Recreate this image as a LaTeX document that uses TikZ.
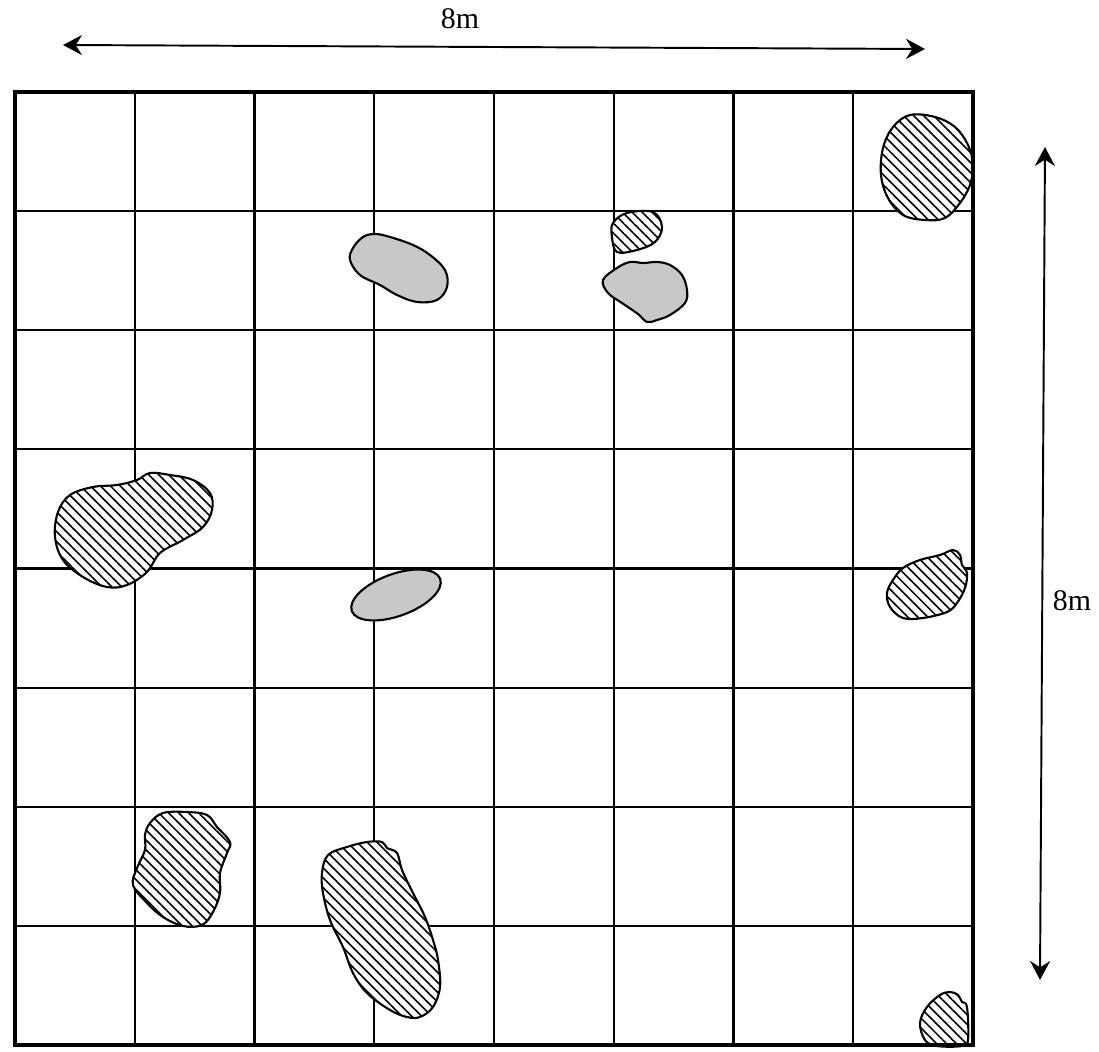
\documentclass[tikz,border=0pt]{standalone}
\usepackage{fontspec}
\setmainfont{Liberation Serif}
\usetikzlibrary{arrows.meta, patterns.meta}
\definecolor{patchgray}{RGB}{200,200,200}

\begin{document}
\begin{tikzpicture}[x=0.01cm, y=-0.01cm,
    gridline/.style={line width=0.6pt},
    hatched/.style={draw, line width=0.6pt, preaction={fill=white},
        pattern={Lines[angle=-45, distance=2pt, line width=0.45pt]}},
    grayed/.style={draw, line width=0.6pt, fill=patchgray},
    dimarrow/.style={line width=0.55pt,
        {Stealth[length=5.4pt, width=5.7pt, inset=1.8pt]}-{Stealth[length=5.4pt, width=5.7pt, inset=1.8pt]}},
    dimlabel/.style={font=\fontsize{8.5}{10}\selectfont, inner sep=0pt}]

\useasboundingbox (0,0) rectangle (1099,1052);

% grid lines
\foreach \i in {1,...,7} {
    \draw[gridline] (15+\i*119.75, 92) -- (15+\i*119.75, 1045);
    \draw[gridline] (15, 92+\i*119.125) -- (973, 92+\i*119.125);
}

% grey patches
\draw[grayed] plot[smooth cycle, tension=0.6] coordinates {
    (353,248) (363,237) (375,234) (390,237) (413,245) (430,255) (445,270)
    (447,287) (437,300) (417,302) (397,295) (380,285) (360,275) (350,260)};
\draw[grayed] plot[smooth cycle, tension=0.6] coordinates {
    (603,280) (617,268) (630,262) (643,263) (657,262) (670,265) (682,275)
    (687,290) (685,303) (670,315) (657,320) (647,322) (638,314) (622,303) (608,293)};
\draw[grayed, rotate around={20:(396,595)}] (396,595) ellipse [x radius=0.47cm, y radius=0.21cm];

% hatched patches
\draw[hatched] plot[smooth cycle, tension=0.6] coordinates {
    (910,115) (935,117) (955,127) (968,145) (973,165) (970,185) (960,203)
    (945,218) (925,220) (903,215) (888,198) (881,175) (883,148) (893,127)};
\draw[hatched] plot[smooth cycle, tension=0.6] coordinates {
    (613,223) (627,213) (653,212) (662,227) (655,242) (637,250) (617,252) (612,237)};
\draw[hatched] plot[smooth cycle, tension=0.6] coordinates {
    (70,495) (93,487) (117,485) (137,480) (150,473) (170,475) (193,480)
    (210,493) (212,510) (203,527) (183,540) (160,553) (147,572) (127,585)
    (107,587) (83,577) (63,560) (55,537) (58,512)};
\draw[hatched] plot[smooth cycle, tension=0.6] coordinates {
    (903,568) (920,560) (940,555) (953,550) (960,555) (962,565) (967,573)
    (965,588) (957,603) (947,612) (923,618) (903,618) (890,607) (887,593) (893,580)};
\draw[hatched] plot[smooth cycle, tension=0.6] coordinates {
    (150,823) (163,813) (187,812) (207,815) (217,827) (230,842) (227,853)
    (220,873) (220,893) (213,912) (202,925) (183,926) (163,917) (147,903)
    (133,885) (137,868) (145,850) (145,835)};
\draw[hatched] plot[smooth cycle, tension=0.6] coordinates {
    (328,855) (347,847) (367,842) (382,842) (387,848) (397,853) (402,870)
    (413,893) (425,917) (433,940) (438,960) (440,987) (433,1007) (420,1017)
    (407,1017) (390,1010) (367,993) (353,973) (343,947) (330,920) (323,893) (322,873)};
\draw[hatched] plot[smooth cycle, tension=0.6] coordinates {
    (920,1023) (927,1007) (940,995) (950,992) (958,995) (962,1002) (967,1007)
    (968,1040) (962,1046) (937,1046) (925,1040)};

% outer border
\draw[line width=1pt] (15,92) rectangle (973,1045);

% dimensions
\coordinate (wl) at (63,45);
\coordinate (wr) at (925,49);
\coordinate (ht) at (1045,147);
\coordinate (hb) at (1040,980);
\draw[dimarrow] (wl) -- (wr);
\draw[dimarrow] (ht) -- (hb);
\node[dimlabel] (wlabel) at (460,19) {8m};
\node[dimlabel] (hlabel) at (1072,601) {8m};
\end{tikzpicture}
\end{document}
